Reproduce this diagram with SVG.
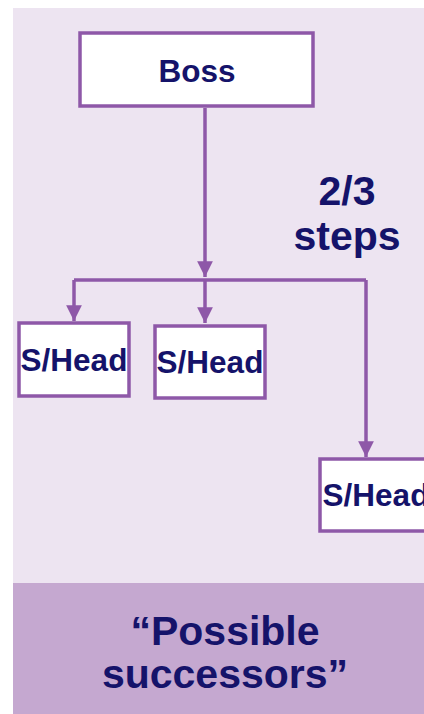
<svg xmlns="http://www.w3.org/2000/svg" width="424" height="714" viewBox="0 0 424 714">
<style>
.box{fill:#fff;stroke:#8E58A8;stroke-width:3.5}
.t{font-family:"Liberation Sans",Arial,sans-serif;font-weight:bold;fill:#15136A;text-anchor:middle}
.n{font-size:31.5px}
.b{font-size:41px}
.c{fill:none;stroke:#8E58A8;stroke-width:3.5}
</style>
<defs>
<marker id="ah" viewBox="0 0 10 10" refX="10" refY="5" markerWidth="4.5" markerHeight="4.5" markerUnits="strokeWidth" orient="auto">
<path d="M0,0 L10,5 L0,10 z" fill="#8E58A8"/>
</marker>
</defs>
<rect x="13" y="8" width="411" height="575" fill="#EDE4F1"/>
<rect x="13" y="583" width="411" height="131" fill="#C5A8D0"/>
<g id="connectors">
<path class="c" d="M205,108 V277" marker-end="url(#ah)"/>
<path class="c" d="M74,280 H366"/>
<path class="c" d="M74,280 V321" marker-end="url(#ah)"/>
<path class="c" d="M205,280 V323" marker-end="url(#ah)"/>
<path class="c" d="M366,280 V457" marker-end="url(#ah)"/>
</g>
<g id="boss">
<rect class="box" x="80" y="33" width="233" height="73"/>
<text class="t n" x="197" y="82">Boss</text>
</g>
<g id="shead1">
<rect class="box" x="19" y="323" width="110" height="73"/>
<text class="t n" x="74" y="371">S/Head</text>
</g>
<g id="shead2">
<rect class="box" x="155" y="326" width="110" height="72"/>
<text class="t n" x="210" y="373">S/Head</text>
</g>
<g id="shead3">
<rect class="box" x="320" y="459" width="114" height="72"/>
<text class="t n" x="376" y="506">S/Head</text>
</g>
<g id="steps-label">
<text class="t b" x="347" y="205">2/3</text>
<text class="t b" x="347" y="250">steps</text>
</g>
<g id="caption">
<text class="t b" x="225" y="645">“Possible</text>
<text class="t b" x="225" y="688">successors”</text>
</g>
</svg>
